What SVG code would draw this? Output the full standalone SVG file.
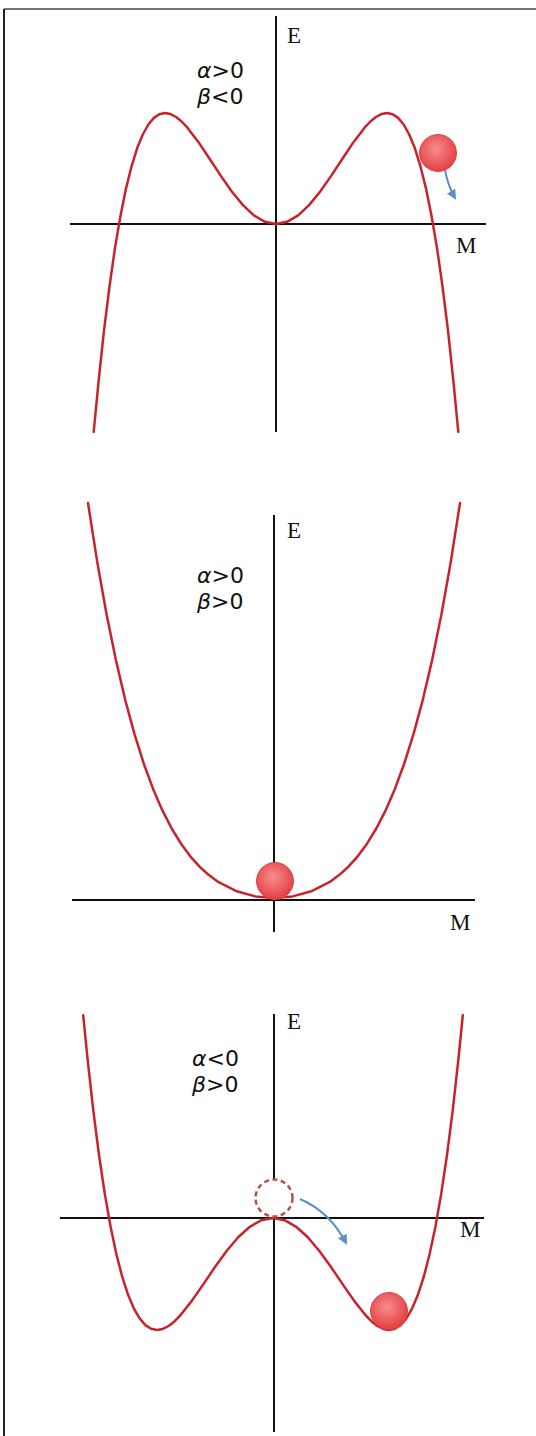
<svg xmlns="http://www.w3.org/2000/svg" width="536" height="1436" viewBox="0 0 536 1436">
<style>
.axis{stroke:#111;stroke-width:2;fill:none}
.curve{stroke:#c8232c;stroke-width:2.5;fill:none;stroke-linejoin:round;stroke-linecap:round}
.lbl{font-family:"Liberation Serif",serif;font-size:23px;fill:#111}
.greek{font-family:"DejaVu Sans","Liberation Sans",sans-serif;font-size:22px;fill:#111}
.ball{fill:url(#ballg);stroke:#d9474a;stroke-width:1}
.move{stroke:#5f8fc4;stroke-width:2;fill:none}
</style>
<defs>
<radialGradient id="ballg" cx="45%" cy="40%" r="60%">
<stop offset="0" stop-color="#f58e8e"/>
<stop offset="1" stop-color="#e53e40"/>
</radialGradient>
<marker id="ah" viewBox="0 0 10 10" refX="8" refY="5" markerWidth="5" markerHeight="5" orient="auto">
<path d="M0,0 L10,5 L0,10 z" fill="#5f8fc4"/>
</marker>
</defs>
<rect x="0" y="0" width="536" height="1436" fill="#fff"/>
<line x1="4" y1="9" x2="536" y2="9" stroke="#777" stroke-width="2"/>
<line x1="4" y1="9" x2="4" y2="1436" stroke="#222" stroke-width="2"/>

<g id="panel1">
<line class="axis" x1="276" y1="16" x2="276" y2="432"/>
<line class="axis" x1="70" y1="224" x2="486" y2="224"/>
<polyline class="curve" points="93.7,432 98.4,383.1 103.9,331.3 109.5,286.4 115,247.9 120.6,215.3 126.1,188.1 131.7,165.8 137.2,148.1 142.8,134.5 148.35,124.5 153.9,117.9 159.45,114.2 165,113 170.55,114.1 176.1,117 181.65,121.5 187.2,127.4 198.3,141.9 209.4,158.5 220.5,175.4 231.6,191.3 242.7,204.9 253.8,215.3 264.9,221.8 276,224 287.1,221.8 298.2,215.3 309.3,204.9 320.4,191.3 331.5,175.4 342.6,158.5 353.7,141.9 364.8,127.4 370.35,121.5 375.9,117 381.45,114.1 387,113 392.55,114.2 398.1,117.9 403.65,124.5 409.2,134.5 414.8,148.1 420.3,165.8 425.9,188.1 431.4,215.3 437,247.9 442.5,286.4 448.1,331.3 453.6,383.1 458.3,432"/>
<text class="lbl" x="287" y="43">E</text>
<text class="lbl" x="456" y="253">M</text>
<text class="greek" x="197" y="78"><tspan font-style="italic">α</tspan>&gt;0</text>
<text class="greek" x="197" y="104"><tspan font-style="italic">β</tspan>&lt;0</text>
</g>
<g id="ball1"><circle class="ball" cx="438" cy="153" r="18.5"/></g>

<g id="panel2">
<line class="axis" x1="274" y1="515" x2="274" y2="932"/>
<line class="axis" x1="72" y1="900" x2="475" y2="900"/>
<polyline class="curve" points="88,503 97.3,562.4 106.6,614.5 115.9,660.1 125.2,699.8 134.5,734.2 143.8,763.7 153.1,788.9 162.4,810.4 171.7,828.5 181,843.7 190.3,856.3 199.6,866.7 208.9,875.1 218.2,881.9 236.8,891.3 255.4,896.4 274,898 292.6,896.4 311.2,891.3 329.8,881.9 339.1,875.1 348.4,866.7 357.7,856.3 367,843.7 376.3,828.5 385.6,810.4 394.9,788.9 404.2,763.7 413.5,734.2 422.8,699.8 432.1,660.1 441.4,614.5 450.7,562.4 460,503"/>
<text class="lbl" x="287" y="538">E</text>
<text class="lbl" x="450" y="930">M</text>
<text class="greek" x="197" y="583"><tspan font-style="italic">α</tspan>&gt;0</text>
<text class="greek" x="197" y="609"><tspan font-style="italic">β</tspan>&gt;0</text>
</g>
<g id="ball2"><circle class="ball" cx="275" cy="881" r="18.5"/></g>

<g id="panel3">
<line class="axis" x1="274" y1="1014" x2="274" y2="1432"/>
<line class="axis" x1="60" y1="1218" x2="484" y2="1218"/>
<polyline class="curve" points="83.2,1015.2 87.4,1057.4 93.2,1109.7 99,1155 104.8,1193.9 110.6,1226.8 116.4,1254.2 122.2,1276.7 128,1294.6 133.8,1308.3 139.6,1318.4 145.4,1325.1 151.2,1328.8 157,1330 162.8,1328.9 168.6,1326 174.4,1321.4 180.2,1315.5 191.8,1300.9 203.4,1284.1 215,1267 226.6,1251 238.2,1237.3 249.8,1226.8 261.4,1220.2 273,1218 284.6,1220.2 296.2,1226.8 307.8,1237.3 319.4,1251 331,1267 342.6,1284.1 354.2,1300.9 365.8,1315.5 371.6,1321.4 377.4,1326 383.2,1328.9 389,1330 394.8,1328.8 400.6,1325.1 406.4,1318.4 412.2,1308.3 418,1294.6 423.8,1276.7 429.6,1254.2 435.4,1226.8 441.2,1193.9 447,1155 452.8,1109.7 458.6,1057.4 462.8,1015.2"/>
<text class="lbl" x="287" y="1029">E</text>
<text class="lbl" x="460" y="1237">M</text>
<text class="greek" x="192" y="1066"><tspan font-style="italic">α</tspan>&lt;0</text>
<text class="greek" x="192" y="1092"><tspan font-style="italic">β</tspan>&gt;0</text>
</g>
<g id="ghost3"><circle cx="274" cy="1198" r="18.5" fill="#fff" stroke="#b5504f" stroke-width="2.5" stroke-dasharray="5 3.5"/></g>
<g id="ball3"><circle class="ball" cx="389" cy="1311" r="18.5"/></g>

<g id="connectors">
<path class="move" d="M445,170 Q448,186 455,198" marker-end="url(#ah)"/>
<path class="move" d="M300,1199 Q330,1212 346,1243" marker-end="url(#ah)"/>
</g>
</svg>
